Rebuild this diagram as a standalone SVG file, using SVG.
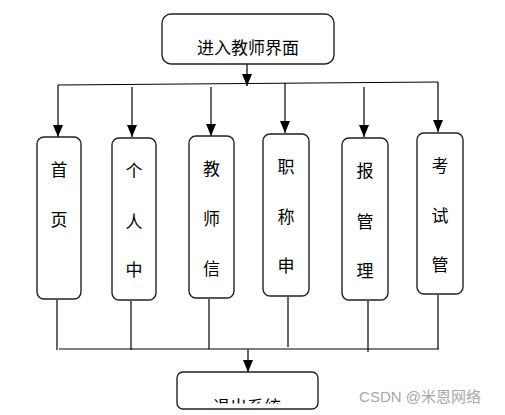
<svg xmlns="http://www.w3.org/2000/svg" width="505" height="415" viewBox="0 0 505 415">
<style>
.box{fill:#fff;stroke:#222;stroke-width:1.4}
.ln{stroke:#000;stroke-width:1.2;fill:none}
.t{font-family:"Liberation Sans","Noto Sans CJK SC",sans-serif;font-size:17px;fill:#000;text-anchor:middle}
.wm{font-family:"Liberation Sans","Noto Sans CJK SC",sans-serif;font-size:15px;fill:#a8a8a8;text-anchor:middle}
</style>
<defs>
<marker id="ah" markerWidth="12" markerHeight="10" refX="12" refY="5" orient="auto" markerUnits="userSpaceOnUse" viewBox="0 0 12 10">
<path d="M0,0 L12,5 L0,10 Z" fill="#000"/>
</marker>
<clipPath id="clipExit"><rect x="170" y="370" width="160" height="33.5"/></clipPath>
</defs>
<rect width="505" height="415" fill="#fff"/>
<g id="connectors">
<path d="M247,64 L247,86" class="ln" marker-end="url(#ah)"/>
<line class="ln" x1="58" y1="85" x2="438" y2="82"/>
<path class="ln" d="M58,85 L58,137" marker-end="url(#ah)"/>
<path class="ln" d="M132,87 L132,137" marker-end="url(#ah)"/>
<path class="ln" d="M211,87 L211,136" marker-end="url(#ah)"/>
<path class="ln" d="M285,83 L285,133" marker-end="url(#ah)"/>
<path class="ln" d="M364,87 L364,137" marker-end="url(#ah)"/>
<path class="ln" d="M438,82 L438,132" marker-end="url(#ah)"/>
<line class="ln" x1="57" y1="300" x2="57" y2="350"/>
<line class="ln" x1="131" y1="301" x2="131" y2="350"/>
<line class="ln" x1="209" y1="299" x2="209" y2="349"/>
<line class="ln" x1="288" y1="297" x2="288" y2="347"/>
<line class="ln" x1="368" y1="301" x2="368" y2="352"/>
<line class="ln" x1="438" y1="295" x2="438" y2="349"/>
<line class="ln" x1="59" y1="349" x2="439" y2="349"/>
<path class="ln" d="M248,349 L248,372" marker-end="url(#ah)"/>
</g>
<g id="start">
<rect class="box" x="162" y="14" width="172" height="50" rx="9"/>
<text class="t" x="248" y="54">进入教师界面</text>
</g>
<g id="n1">
<rect class="box" x="37" y="137" width="44" height="162" rx="7"/>
<text class="t" x="59" y="176">首</text>
<text class="t" x="59" y="226">页</text>
</g>
<g id="n2">
<rect class="box" x="112" y="138" width="44" height="162" rx="7"/>
<text class="t" x="134" y="177">个</text>
<text class="t" x="134" y="228">人</text>
<text class="t" x="134" y="276">中</text>
</g>
<g id="n3">
<rect class="box" x="189" y="136" width="45" height="162" rx="7"/>
<text class="t" x="211.5" y="175">教</text>
<text class="t" x="211.5" y="225">师</text>
<text class="t" x="211.5" y="275">信</text>
</g>
<g id="n4">
<rect class="box" x="263" y="134" width="46" height="162" rx="7"/>
<text class="t" x="286" y="173">职</text>
<text class="t" x="286" y="223">称</text>
<text class="t" x="286" y="272">申</text>
</g>
<g id="n5">
<rect class="box" x="342" y="138" width="46" height="162" rx="7"/>
<text class="t" x="365" y="177">报</text>
<text class="t" x="365" y="228">管</text>
<text class="t" x="365" y="277">理</text>
</g>
<g id="n6">
<rect class="box" x="417" y="133" width="46" height="161" rx="7"/>
<text class="t" x="440" y="172">考</text>
<text class="t" x="440" y="222">试</text>
<text class="t" x="440" y="271">管</text>
</g>
<g id="exit">
<rect class="box" x="177" y="372" width="141" height="37" rx="6"/>
<text class="t" x="247" y="413" clip-path="url(#clipExit)">退出系统</text>
</g>
<text class="wm" x="420" y="402">CSDN @米恩网络</text>
</svg>
